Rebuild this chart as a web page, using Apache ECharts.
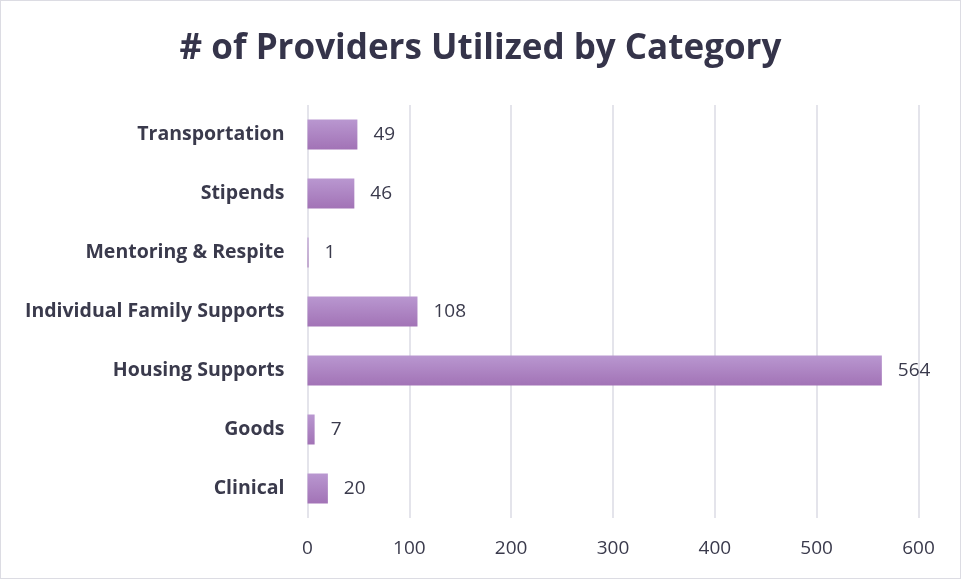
<!DOCTYPE html>
<html>
<head>
<meta charset="utf-8">
<script src="https://cdn.jsdelivr.net/npm/echarts@6/dist/echarts.min.js"></script>
<style>
html,body{margin:0;padding:0;background:#fff;}
#c{width:961px;height:579px;box-sizing:border-box;border:1.5px solid #dcdce3;}
</style>
</head>
<body>
<div id="c"></div>
<script>
const categories = ['Clinical', 'Goods', 'Housing Supports', 'Individual Family Supports', 'Mentoring & Respite', 'Stipends', 'Transportation'];
const values = [20, 7, 564, 108, 1, 46, 49];
const xTicks = [0, 100, 200, 300, 400, 500, 600];

const chart = echarts.init(document.getElementById('c'));
const textColor = '#3a3a4c';
chart.setOption({
  animation: false,
  title: {
    text: '# of Providers Utilized by Category',
    left: 'center',
    top: 26,
    textStyle: { fontFamily: 'Open Sans', fontWeight: 'bold', fontSize: 35, color: '#35344a' }
  },
  grid: { left: 306.5, right: 41.5, top: 104, bottom: 60, containLabel: false },
  xAxis: {
    type: 'value',
    min: xTicks[0], max: xTicks[xTicks.length - 1], interval: 100,
    axisLine: { show: false },
    axisTick: { show: false },
    splitLine: { show: true, lineStyle: { color: '#dedee6', width: 1.6 } },
    axisLabel: { color: textColor, fontFamily: 'Open Sans', fontSize: 19, margin: 21 }
  },
  yAxis: {
    type: 'category',
    data: categories,
    axisLine: { show: false },
    axisTick: { show: false },
    axisLabel: { color: textColor, fontFamily: 'Open Sans', fontWeight: 'bold', fontSize: 19.5, margin: 23 }
  },
  series: [{
    type: 'bar',
    data: values,
    barWidth: 30,
    itemStyle: {
      color: new echarts.graphic.LinearGradient(0, 0, 0, 1, [
        { offset: 0, color: '#b997d0' },
        { offset: 1, color: '#a273b6' }
      ])
    },
    label: { show: true, position: 'right', distance: 16, color: textColor, fontFamily: 'Open Sans', fontSize: 19 }
  }]
});
</script>
</body>
</html>
